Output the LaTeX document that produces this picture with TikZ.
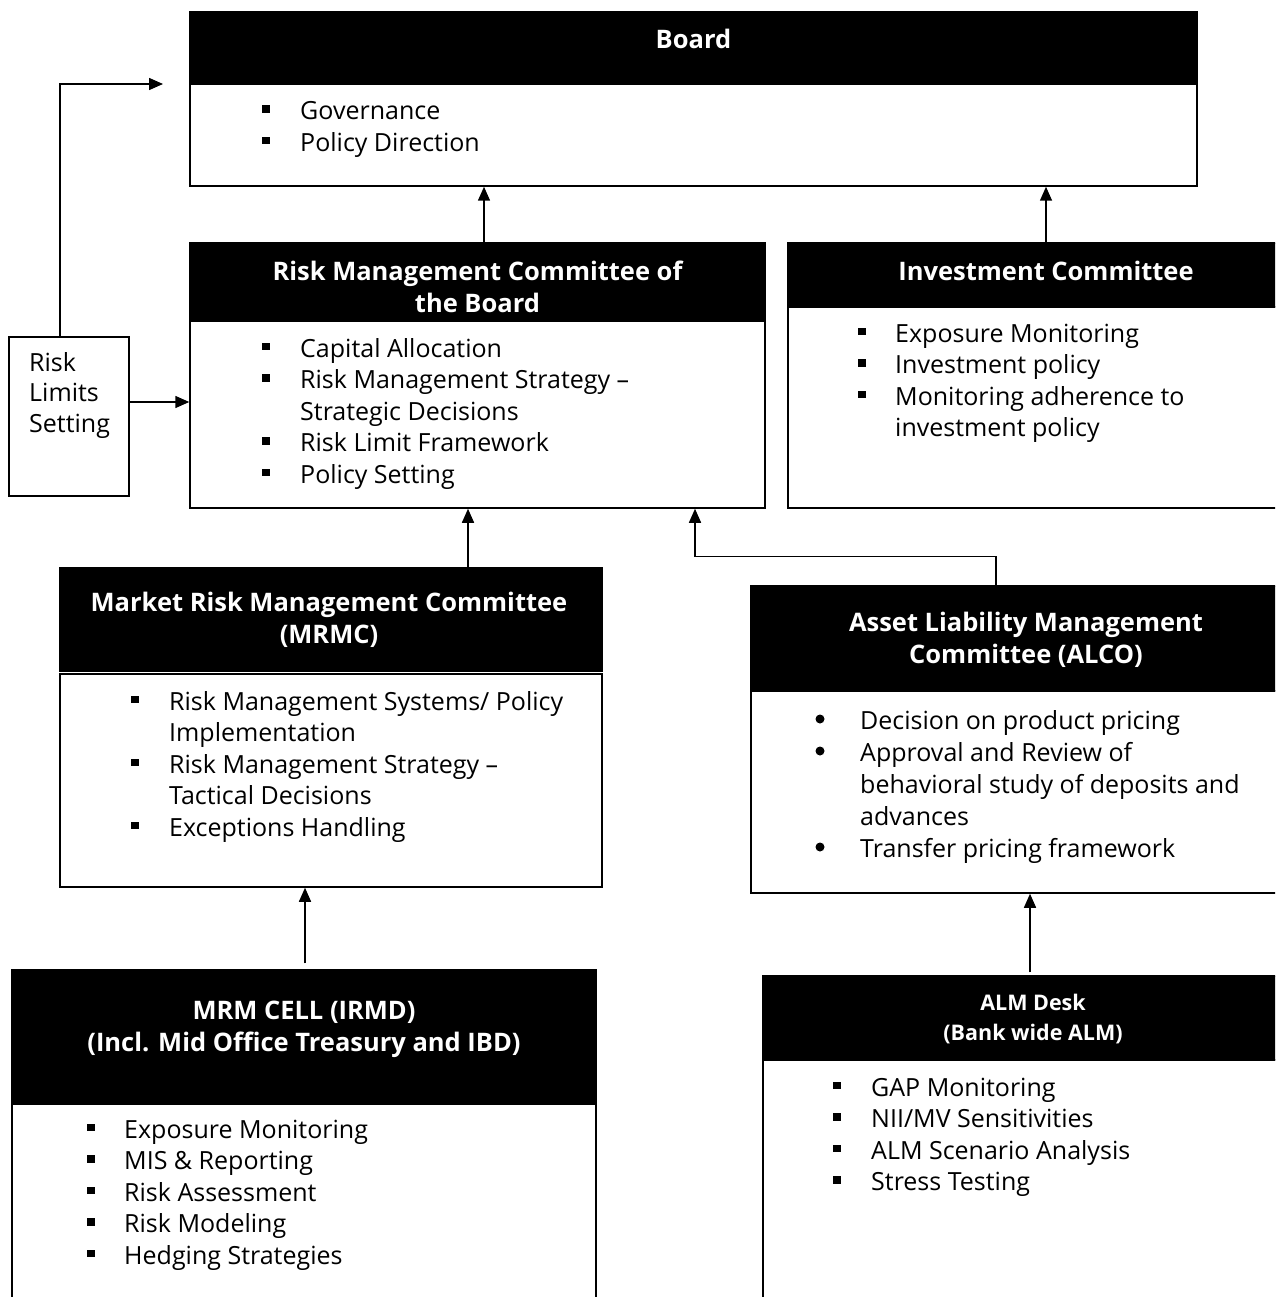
\documentclass[tikz,border=0pt]{standalone}
\usepackage{fontspec}
\setmainfont{Open Sans}
\usetikzlibrary{arrows.meta}
\newcommand{\sqb}{\makebox[38pt][l]{\rule[7pt]{7.5pt}{7.5pt}}}
\newcommand{\nob}{\makebox[38pt][l]{}}
\newcommand{\sqc}{\makebox[37pt][l]{\rule[7pt]{7.5pt}{7.5pt}}}
\newcommand{\noc}{\makebox[37pt][l]{}}
\begin{document}
\begin{tikzpicture}[x=1pt,y=-1pt,
  hdrbox/.style={draw=black,fill=black,line width=1.5pt,inner sep=0},
  bodybox/.style={draw=black,fill=white,line width=1.5pt,inner sep=0},
  hdrtext/.style={anchor=base,inner sep=0,text=white,font=\bfseries\fontsize{25.5}{32.5}\selectfont},
  blist/.style={anchor=base west,inner sep=0,font=\fontsize{25}{31.5}\selectfont},
  arr/.style={line width=1.5pt,-{Triangle[length=14pt,width=12pt]}},
  cbul/.style={fill=black}]
\useasboundingbox (0,0) rectangle (1275,1297);
\fill[white] (0,0) rectangle (1275,1297);
\clip (0,0) rectangle (1275,1297);

% Board
\node[hdrbox,minimum width=1007pt,minimum height=72pt] (boardH) at (693.5,48) {};
\node[bodybox,minimum width=1007pt,minimum height=102pt] (boardB) at (693.5,135) {};
\node[hdrtext] (boardT) at (693.5,49) {Board};
\node[blist] (boardL) at (262,120) {\begin{tabular}[t]{@{}l@{}}\sqb Governance\\ \sqb Policy Direction\end{tabular}};

% Risk Management Committee of the Board
\node[hdrbox,minimum width=575pt,minimum height=78pt] (rmcH) at (477.5,282) {};
\node[bodybox,minimum width=575pt,minimum height=187pt] (rmcB) at (477.5,414.5) {};
\node[hdrtext] (rmcT) at (477.5,280) {\begin{tabular}[t]{@{}c@{}}Risk Management Committee of\\the Board\end{tabular}};
\node[blist] (rmcL) at (262,357) {\begin{tabular}[t]{@{}l@{}}\sqb Capital Allocation\\ \sqb Risk Management Strategy --\\ \nob Strategic Decisions\\ \sqb Risk Limit Framework\\ \sqb Policy Setting\end{tabular}};

% Investment Committee
\node[hdrbox,minimum width=516pt,minimum height=64pt] (invH) at (1046,275) {};
\node[bodybox,minimum width=516pt,minimum height=201pt] (invB) at (1046,407.5) {};
\node[hdrtext] (invT) at (1046,280) {Investment Committee};
\node[blist] (invL) at (858,342) {\begin{tabular}[t]{@{}l@{}}\sqc Exposure Monitoring\\ \sqc Investment policy\\ \sqc Monitoring adherence to\\ \noc investment policy\end{tabular}};

% Risk Limits Setting
\node[bodybox,minimum width=120pt,minimum height=159pt] (rl) at (69,416.5) {};
\node[anchor=base west,inner sep=0,font=\fontsize{25}{30.5}\selectfont] (rlT) at (29,371) {\begin{tabular}[t]{@{}l@{}}Risk\\Limits\\Setting\end{tabular}};

% MRMC
\node[hdrbox,minimum width=542pt,minimum height=103pt] (mrmcH) at (331,619.5) {};
\node[bodybox,minimum width=542pt,minimum height=213pt] (mrmcB) at (331,780.5) {};
\node[hdrtext] (mrmcT) at (329,611) {\begin{tabular}[t]{@{}c@{}}Market Risk Management Committee\\(MRMC)\end{tabular}};
\node[blist] (mrmcL) at (131,710) {\begin{tabular}[t]{@{}l@{}}\sqb Risk Management Systems/ Policy\\ \nob Implementation\\ \sqb Risk Management Strategy --\\ \nob Tactical Decisions\\ \sqb Exceptions Handling\end{tabular}};

% ALCO
\node[hdrbox,minimum width=550pt,minimum height=105pt] (alcoH) at (1026,638.5) {};
\node[bodybox,minimum width=550pt,minimum height=202pt] (alcoB) at (1026,792) {};
\node[hdrtext] (alcoT) at (1026,631) {\begin{tabular}[t]{@{}c@{}}Asset Liability Management\\Committee (ALCO)\end{tabular}};
\node[anchor=base west,inner sep=0,font=\fontsize{25}{32}\selectfont] (alcoL) at (860,729) {\begin{tabular}[t]{@{}l@{}}Decision on product pricing\\Approval and Review of\\behavioral study of deposits and\\advances\\Transfer pricing framework\end{tabular}};
\fill[cbul] (820,719) circle[radius=4.5pt];
\fill[cbul] (820,751) circle[radius=4.5pt];
\fill[cbul] (820,847) circle[radius=4.5pt];

% MRM CELL
\node[hdrbox,minimum width=584pt,minimum height=134pt] (cellH) at (304,1037) {};
\node[bodybox,minimum width=584pt,minimum height=206pt] (cellB) at (304,1207) {};
\node[hdrtext] (cellT) at (304,1019) {\begin{tabular}[t]{@{}c@{}}MRM CELL (IRMD)\\(Incl. Mid Office Treasury and IBD)\end{tabular}};
\node[blist] (cellL) at (87,1138) {\begin{tabular}[t]{@{}l@{}}\sqc Exposure Monitoring\\ \sqc MIS \& Reporting\\ \sqc Risk Assessment\\ \sqc Risk Modeling\\ \sqc Hedging Strategies\end{tabular}};

% ALM Desk
\node[hdrbox,minimum width=540pt,minimum height=84pt] (almH) at (1033,1018) {};
\node[bodybox,minimum width=540pt,minimum height=250pt] (almB) at (1033,1185) {};
\node[hdrtext,font=\bfseries\fontsize{21.5}{30}\selectfont] (almT) at (1033,1010) {\begin{tabular}[t]{@{}c@{}}ALM Desk\\(Bank wide ALM)\end{tabular}};
\node[blist] (almL) at (833,1096) {\begin{tabular}[t]{@{}l@{}}\sqb GAP Monitoring\\ \sqb NII/MV Sensitivities\\ \sqb ALM Scenario Analysis\\ \sqb Stress Testing\end{tabular}};

% connectors
\coordinate (loopend) at (163,84);
\draw[arr] ([xshift=6.5pt]rmcH.north) -- ([xshift=6.5pt]rmcH.north |- boardB.south);
\draw[arr] (invH.north) -- (invH.north |- boardB.south);
\draw[arr] ([xshift=-9pt]rl.north) |- (loopend);
\draw[arr] ([yshift=14.5pt]rl.east) -- ([yshift=14.5pt]rl.east -| rmcB.west);
\draw[arr] ([xshift=137pt]mrmcH.north) -- ([xshift=137pt]mrmcH.north |- rmcB.south);
\draw[arr] ([xshift=-30pt]alcoH.north) -- ++(0,-29) -| ([xshift=217.5pt]rmcB.south);
\draw[arr] ([xshift=1pt,yshift=6pt]cellH.north) -- ([xshift=1pt]cellH.north |- mrmcB.south);
\draw[arr] ([xshift=-3pt,yshift=3pt]almH.north) -- ([xshift=-3pt]almH.north |- alcoB.south);
\end{tikzpicture}
\end{document}
